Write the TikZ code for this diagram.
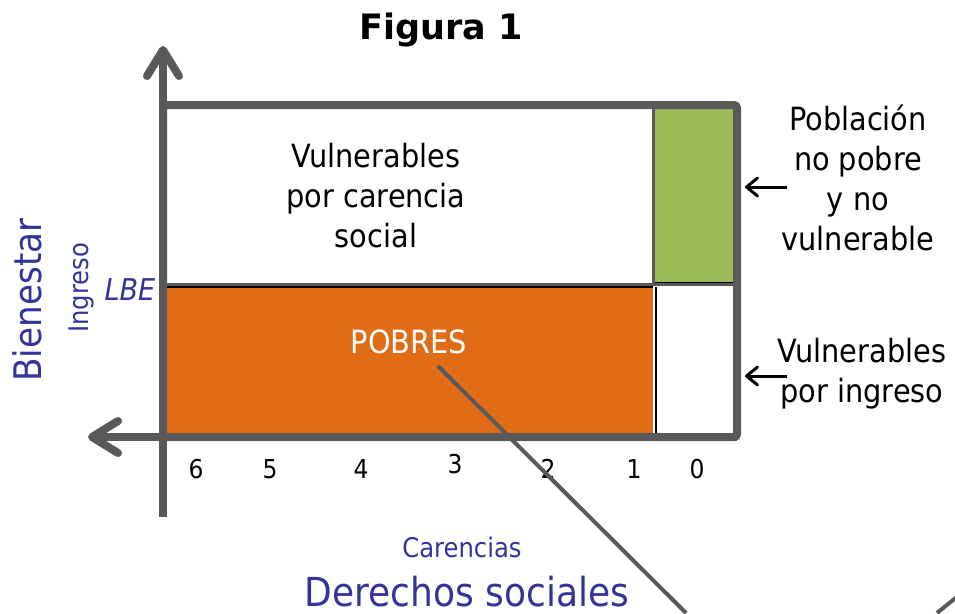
\documentclass[tikz,border=0pt]{standalone}
\usepackage{fontspec}
\setmainfont{DejaVu Sans Condensed}
\newfontfamily\figfont{DejaVu Sans}
\usepackage{tikz}
\usetikzlibrary{arrows.meta}
\definecolor{axisgray}{RGB}{89,89,89}
\definecolor{pobre}{RGB}{224,108,21}
\definecolor{nopobre}{RGB}{155,187,89}
\definecolor{azul}{RGB}{51,51,153}

\begin{document}
\begin{tikzpicture}[x=1pt,y=-1pt,
	axis/.style={draw=axisgray,line width=8pt,-{Straight Barb[length=26pt,width=32pt,round]}},
	lbl/.style={align=center,font=\fontsize{32}{40}\selectfont,inner sep=0pt},
	num/.style={font=\fontsize{26}{30}\selectfont,inner sep=0pt},
	blu/.style={text=azul,inner sep=0pt},
	ptr/.style={line width=3pt,-{Straight Barb[length=11pt,width=18pt,round]}}]
	\useasboundingbox (0,0) rectangle (955,613);
	% zones
	\fill[nopobre] (655,109) rectangle (733,283);
	\fill[pobre] (167,287) rectangle (653,433);
	\draw[axisgray,line width=3pt] (163,284.5) -- (737,284.5);
	\draw[axisgray,line width=3pt] (653.5,105) -- (653.5,284.5);
	\draw[black,line width=1.5pt] (167,287.2) -- (653,287.2);
	\draw[black,line width=1.5pt] (655,282.5) -- (733,282.5);
	\draw[black,line width=2pt] (655.5,287) -- (655.5,433);
	\draw[axisgray,line width=8pt,rounded corners=3pt] (163,105) rectangle (737,437);
	% axes
	\coordinate (ytop) at (163,46);
	\coordinate (ybot) at (163,517);
	\coordinate (xleft) at (88,437);
	\coordinate (xright) at (737,437);
	\draw[axis] (ybot) -- (ytop);
	\draw[axis] (xright) -- (xleft);
	% texts
	\node[font={\fontsize{35}{42}\figfont\bfseries},inner sep=0pt] (fig) at (441,30) {Figura 1};
	\node[lbl] (vcs) at (376,196) {Vulnerables\\por carencia\\social};
	\node[lbl,text=white] (pob) at (409,342) {POBRES};
	\node[lbl] (nopob) at (858,178) {Población\\no pobre\\y no\\vulnerable};
	\node[lbl] (ving) at (862,374) {Vulnerables\\por ingreso};
	\foreach \n/\x/\y in {6/196/469,5/270/469,4/361/469,3/455/464,2/548/469,1/634/469,0/697/469}
		\node[num] (c\n) at (\x,\y) {\n};
	\node[blu,font=\fontsize{27}{30}\selectfont] (car) at (462,547) {Carencias};
	\node[blu,font=\fontsize{40}{46}\selectfont] (der) at (467,592) {Derechos sociales};
	\node[blu,rotate=90,font=\fontsize{38}{44}\selectfont] (bien) at (27,300) {Bienestar};
	\node[blu,rotate=90,font=\fontsize{27}{30}\selectfont] (ing) at (81,288) {Ingreso};
	\node[blu,font={\fontsize{30}{34}\selectfont\itshape}] (lbe) at (130,290) {LBE};
	% pointers
	\coordinate (a1) at (745,187);
	\coordinate (p1) at (787,187);
	\coordinate (a2) at (745,376);
	\coordinate (p2) at (787,376);
	\draw[ptr] (p1) -- (a1);
	\draw[ptr] (p2) -- (a2);
	% diagonal strokes
	\coordinate (d1) at (438,366);
	\coordinate (d2) at (686,613);
	\coordinate (e1) at (937,613);
	\coordinate (e2) at (958,596);
	\draw[axisgray,line width=4pt] (d1) -- (d2);
	\draw[axisgray,line width=4pt] (e1) -- (e2);
\end{tikzpicture}
\end{document}
